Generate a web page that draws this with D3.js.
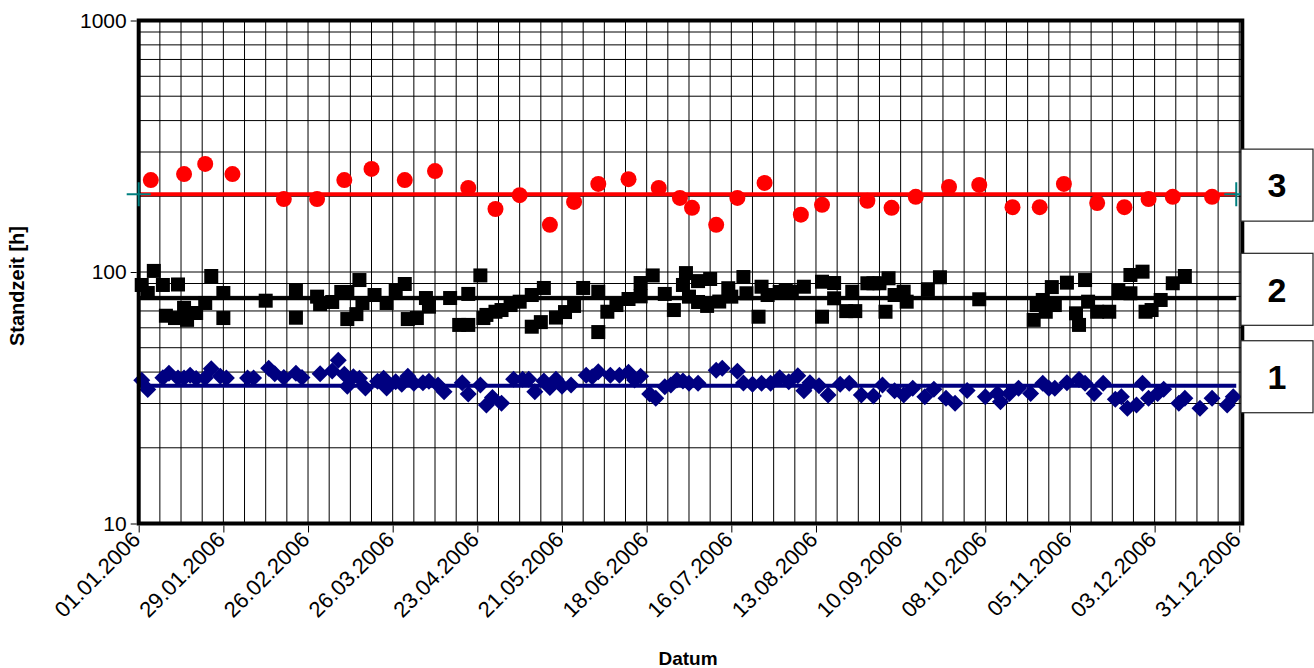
<!DOCTYPE html>
<html>
<head>
<meta charset="utf-8">
<script src="https://cdn.jsdelivr.net/npm/d3@7"></script>
<style>
  body { margin: 0; background: #fff; }
  text { font-family: Arial, "Liberation Sans", sans-serif; }
</style>
</head>
<body>
<svg id="chart" width="1314" height="668"></svg>
<script>
// days counted from 01.01.2006, values in hours
const redPoints = [[4,232],[15,245],[22,269],[31,245],[48,195],[59,195],[68,232],[77,257],[88,232],[98,252],
  [109,216],[118,178],[126,202],[136,154],[144,190],[152,224],[162,234],[172,216],[179,197],[183,180],
  [191,154],[198,197],[207,226],[219,169],[226,185],[241,192],[249,180],[257,199],[268,218],[278,222],
  [289,181],[298,181],[306,224],[317,188],[326,181],[334,195],[342,199],[355,199]];

const blackPoints = [[1,88.8],[3,82.5],[5,101],[8,88.8],[9,67],[12,65.6],[13,89.2],[15,72],[16,64.5],[19,68.7],
  [22,75.3],[24,96.4],[28,82.5],[28,65.6],[42,76.9],[52,84.2],[52,65.8],[59,79.8],[60,74.5],[64,76],
  [67,83.3],[69,83.3],[69,65],[72,68],[73,92.9],[74,75.3],[78,81],[82,75.3],[85,84.8],[88,89.6],
  [89,65],[92,65.6],[95,78.8],[96,72.8],[103,78.8],[106,61.6],[109,61.6],[109,81.8],[113,96.9],[114,65.6],
  [115,67.5],[118,69.5],[120,70.6],[123,73.9],[126,76.2],[130,81],[130,60.6],[133,63.2],[134,86.4],[138,65.9],
  [141,69.3],[144,73.3],[147,86.4],[152,83.5],[152,57.7],[155,69.5],[158,73.9],[162,78.1],[166,90.4],[166,80],
  [170,96.9],[174,81.8],[177,70.6],[180,88.8],[181,99],[182,79.8],[185,92],[185,76],[188,73.3],[189,93.8],
  [192,76.3],[195,86.2],[196,79.8],[200,95.5],[201,82.3],[205,66.4],[206,87.4],[208,81],[212,83.3],[214,84.8],
  [216,83.5],[220,87.4],[226,91.5],[226,66.4],[230,90.4],[230,78.6],[234,69.9],[236,83.5],[237,69.9],[241,90.2],
  [243,90.2],[245,90.2],[247,69.5],[248,94.4],[250,81],[253,83.5],[254,76.2],[261,85.4],[265,95.3],[278,77.9],
  [296,64.5],[297,73.9],[299,77.4],[300,69.5],[302,87.1],[303,73.9],[307,90.7],[310,68.5],[311,61.6],[313,92.9],
  [314,76.2],[317,69.5],[321,69.5],[324,84.8],[328,97.3],[328,82.3],[332,100.3],[333,69.5],[335,70.6],[338,77.4],
  [342,90.2],[346,96.4]];

const bluePoints = [[1,37.1],[3,34.1],[8,38],[10,39.6],[13,37.9],[15,37.9],[17,38.9],[19,37.7],[22,37.9],[24,41.2],
  [27,38.5],[29,37.9],[36,37.9],[38,37.9],[43,41.4],[45,39.4],[48,38.1],[52,39.6],[54,38.1],[60,39.4],
  [64,40.4],[66,44.6],[68,39.2],[69,35.1],[71,38.3],[73,37.8],[75,34.6],[79,36.8],[81,37.8],[82,34.6],
  [85,36.6],[87,35.8],[89,38.5],[91,36.1],[94,36.3],[96,36.8],[99,35.5],[101,33.4],[107,36.3],[109,32.7],
  [113,35.5],[115,29.6],[117,31.7],[120,30.1],[124,37.5],[127,37.5],[129,37.5],[131,33.4],[134,36.9],[136,34.7],
  [138,37.5],[140,35.1],[143,35.5],[148,38.9],[150,38.3],[152,40.1],[156,38.9],[159,38.9],[162,39.9],[164,37.2],
  [166,38.5],[169,32.7],[171,31.5],[174,35],[176,35.5],[178,37.2],[180,36.9],[182,36.1],[185,36.1],[191,40.7],
  [193,41.4],[198,40.3],[200,36.2],[203,35.8],[206,36.1],[209,36.1],[212,38],[215,36.6],[218,38.7],[220,33.7],
  [222,36.3],[225,35.3],[228,32.4],[232,35.8],[235,36.1],[239,32.4],[243,32.1],[246,35.5],[250,33.7],[253,32.4],
  [256,34.5],[260,31.9],[263,34.2],[267,31.5],[270,30.1],[274,33.8],[280,31.9],[284,32.9],[285,30.5],[288,32.9],
  [291,34.5],[295,32.9],[299,36.1],[301,34.5],[303,34.5],[307,36.3],[311,37.4],[313,36.1],[316,32.9],[319,36.1],
  [323,31.2],[325,31.9],[327,28.7],[330,29.6],[332,36.1],[334,31.5],[337,32.9],[339,34.2],[344,30.1],[346,31.5],
  [351,28.7],[355,31.5],[360,29.6],[362,31.9]];

// mean lines (blue, black, red) and their box labels
const meanValues = [35.3, 78.6, 204];
const meanLabels = ["1", "2", "3"];
const meanColors = ["#000080", "#000000", "#ff0000"];
const meanSpan = [0, 363]; // first and last day of the mean lines

const yTickValues = [10, 100, 1000];
const yGridValues = [20, 30, 40, 50, 60, 70, 80, 90, 100, 200, 300, 400, 500, 600, 700, 800, 900];

const startDate = new Date(2006, 0, 1);
const toDate = d => d3.timeDay.offset(startDate, d);

const svg = d3.select("#chart");
const plot = { left: 138.7, right: 1242.3, top: 20.5, bottom: 523.5 };

const x = d3.scaleTime()
  .domain([startDate, new Date(2007, 0, 1)])
  .range([plot.left, plot.right]);

const y = d3.scaleLog()
  .domain([10, 1000])
  .range([plot.bottom, plot.top]);

// grid: weekly verticals, log minor horizontals
const grid = svg.append("g").attr("stroke", "#000").attr("stroke-width", 1);
grid.selectAll(".vgrid")
  .data(d3.range(7, 365, 7))
  .enter().append("line")
  .attr("x1", d => x(toDate(d))).attr("x2", d => x(toDate(d)))
  .attr("y1", plot.top).attr("y2", plot.bottom);
grid.selectAll(".hgrid")
  .data(yGridValues)
  .enter().append("line")
  .attr("x1", plot.left).attr("x2", plot.right)
  .attr("y1", d => y(d)).attr("y2", d => y(d));

// mean lines
svg.append("g").selectAll("line")
  .data(meanValues)
  .enter().append("line")
  .attr("x1", x(toDate(meanSpan[0]))).attr("x2", x(toDate(meanSpan[1])))
  .attr("y1", d => y(d)).attr("y2", d => y(d))
  .attr("stroke", (d, i) => meanColors[i])
  .attr("stroke-width", 4);

// red circles
svg.append("g").selectAll("circle")
  .data(redPoints)
  .enter().append("circle")
  .attr("cx", d => x(toDate(d[0])))
  .attr("cy", d => y(d[1]))
  .attr("r", 8)
  .attr("fill", "#ff0000");

// black squares
svg.append("g").selectAll("rect")
  .data(blackPoints)
  .enter().append("rect")
  .attr("x", d => x(toDate(d[0])) - 7)
  .attr("y", d => y(d[1]) - 7)
  .attr("width", 14).attr("height", 14)
  .attr("fill", "#000");

// blue diamonds
svg.append("g").selectAll("path")
  .data(bluePoints)
  .enter().append("path")
  .attr("transform", d => `translate(${x(toDate(d[0]))},${y(d[1])})`)
  .attr("d", "M0,-8.5L8.5,0L0,8.5L-8.5,0Z")
  .attr("fill", "#000080");

// plot border
svg.append("rect")
  .attr("x", plot.left).attr("y", plot.top)
  .attr("width", plot.right - plot.left)
  .attr("height", plot.bottom - plot.top)
  .attr("fill", "none")
  .attr("stroke", "#000")
  .attr("stroke-width", 4);

// teal cross markers at the ends of the red mean line (on top of the border)
const redMean = meanValues[2];
svg.append("g").selectAll("path")
  .data(meanSpan)
  .enter().append("path")
  .attr("transform", d => `translate(${x(toDate(d))},${y(redMean)})`)
  .attr("d", "M-12,0H12M0,-12V12")
  .attr("stroke", "#008080")
  .attr("stroke-width", 2)
  .attr("fill", "none");

// y axis
const yAxis = svg.append("g")
  .attr("transform", `translate(${plot.left - 2},0)`)
  .call(d3.axisLeft(y).tickValues(yTickValues).tickFormat(d3.format("d")).tickSize(6).tickPadding(4));
yAxis.select(".domain").remove();
yAxis.selectAll("text").style("font-size", "21px").attr("fill", "#000");

// x axis
const fmt = d3.timeFormat("%d.%m.%Y");
const xAxis = svg.append("g")
  .attr("transform", `translate(0,${plot.bottom + 2})`)
  .call(d3.axisBottom(x).tickValues(d3.range(0, 365, 28).map(toDate)).tickFormat(fmt).tickSize(7));
xAxis.select(".domain").remove();
xAxis.selectAll("text")
  .style("font-size", "22px")
  .attr("fill", "#000")
  .attr("text-anchor", "end")
  .attr("x", 0).attr("y", 0).attr("dy", "0.35em")
  .attr("transform", "translate(-3,10) rotate(-45)");

// axis titles
svg.append("text")
  .attr("transform", "translate(24,286) rotate(-90)")
  .attr("text-anchor", "middle")
  .style("font-size", "20px").style("font-weight", "bold")
  .text("Standzeit [h]");

svg.append("text")
  .attr("x", 688).attr("y", 665)
  .attr("text-anchor", "middle")
  .style("font-size", "19px").style("font-weight", "bold")
  .text("Datum");

// label boxes on the right
const boxes = svg.append("g").selectAll("g")
  .data(meanValues)
  .enter().append("g")
  .attr("transform", d => `translate(1241,${y(d) - 45})`);
boxes.append("rect")
  .attr("width", 72).attr("height", 72)
  .attr("fill", "#fff")
  .attr("stroke", "#222")
  .attr("stroke-width", 1.2);
boxes.append("text")
  .attr("x", 36).attr("y", 36).attr("dy", "0.36em")
  .attr("text-anchor", "middle")
  .style("font-size", "34px").style("font-weight", "bold")
  .text((d, i) => meanLabels[i]);
</script>
</body>
</html>
